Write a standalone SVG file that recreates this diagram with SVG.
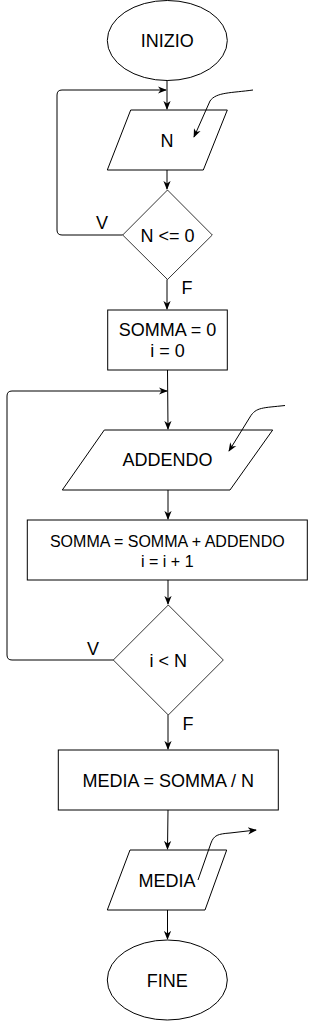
<svg xmlns="http://www.w3.org/2000/svg" width="309" height="1022" viewBox="0 0 309 1022">
<style>
.s{fill:#fff;stroke:#000;stroke-width:1}
.d{fill:#fff;stroke:#000;stroke-width:0.8}
.c{fill:none;stroke:#000;stroke-width:1}
text{font-family:"Liberation Sans",Arial,Helvetica,sans-serif;font-size:18px;fill:#000;text-anchor:middle}
.sm{font-size:16px}
</style>
<defs>
<marker id="a" viewBox="0 0 10 10" refX="9" refY="5" markerWidth="9" markerHeight="9" markerUnits="userSpaceOnUse" orient="auto">
<path d="M0,1 L10,5 L0,9 L3,5 z" fill="#000"/>
</marker>
</defs>
<rect width="309" height="1022" fill="#fff"/>
<g id="inizio">
<ellipse class="s" cx="167.3" cy="40.5" rx="60" ry="40"/>
<text x="167.3" y="47">INIZIO</text>
</g>
<g id="input-n">
<polygon class="s" points="130.7,110 227.3,110 203.3,170 107.3,170"/>
<text x="167" y="146.5">N</text>
</g>
<g id="cond-n">
<polygon class="d" points="167.5,190 212.3,235 167.5,279.5 122.7,235"/>
<text x="167.5" y="241.5">N &lt;= 0</text>
</g>
<g id="init">
<rect class="s" x="107.7" y="310" width="119.6" height="60"/>
<text x="167.5" y="335.5">SOMMA = 0</text>
<text x="167.5" y="356.5">i = 0</text>
</g>
<g id="input-addendo">
<polygon class="s" points="104.3,430 272.7,430 230,490 62.3,490"/>
<text x="167.5" y="465.5">ADDENDO</text>
</g>
<g id="sum">
<rect class="s" x="27.3" y="520" width="280" height="60"/>
<text class="sm" x="167.3" y="546.5">SOMMA = SOMMA + ADDENDO</text>
<text class="sm" x="167.3" y="566.5">i = i + 1</text>
</g>
<g id="cond-i">
<polygon class="d" points="168.3,605 223.3,660 168.3,715 113.3,660"/>
<text x="168.3" y="666.5">i &lt; N</text>
</g>
<g id="media">
<rect class="s" x="58.3" y="750" width="220" height="60"/>
<text x="168.3" y="786.5">MEDIA = SOMMA / N</text>
</g>
<g id="output-media">
<polygon class="s" points="130,850 226.7,850 205,910 107.3,910"/>
<text x="167" y="886.5">MEDIA</text>
</g>
<g id="fine">
<ellipse class="s" cx="167.3" cy="980" rx="60" ry="40"/>
<text x="167.3" y="986.5">FINE</text>
</g>
<g id="connectors">
<path class="c" d="M167,80 L167,109" marker-end="url(#a)"/>
<path class="c" d="M167,170 L167,189" marker-end="url(#a)"/>
<path class="c" d="M122.7,235 L62,235 Q57,235 57,230 L57,95 Q57,90 62,90 L166,90" marker-end="url(#a)"/>
<path class="c" d="M253,90 C232,93 216,92 210,101 L194,137" marker-end="url(#a)"/>
<path class="c" d="M167,279.5 L167,309" marker-end="url(#a)"/>
<path class="c" d="M167.5,370 L168,429" marker-end="url(#a)"/>
<path class="c" d="M285,405.5 C263,408 256,407 250,417 L229,451" marker-end="url(#a)"/>
<path class="c" d="M168,490 L168,519" marker-end="url(#a)"/>
<path class="c" d="M168,580 L168,604" marker-end="url(#a)"/>
<path class="c" d="M113.3,660 L12,660 Q7,660 7,655 L7,396 Q7,391 12,391 L167,391" marker-end="url(#a)"/>
<path class="c" d="M168,715 L168,749" marker-end="url(#a)"/>
<path class="c" d="M168,810 L167.5,849" marker-end="url(#a)"/>
<path class="c" d="M198,880 L211,843 C214,835 218,834 230,833 L256,830" marker-end="url(#a)"/>
<path class="c" d="M167.5,910 L167.5,939" marker-end="url(#a)"/>
<text x="102" y="229">V</text>
<text x="187" y="294">F</text>
<text x="93" y="655">V</text>
<text x="188" y="730">F</text>
</g>
</svg>
